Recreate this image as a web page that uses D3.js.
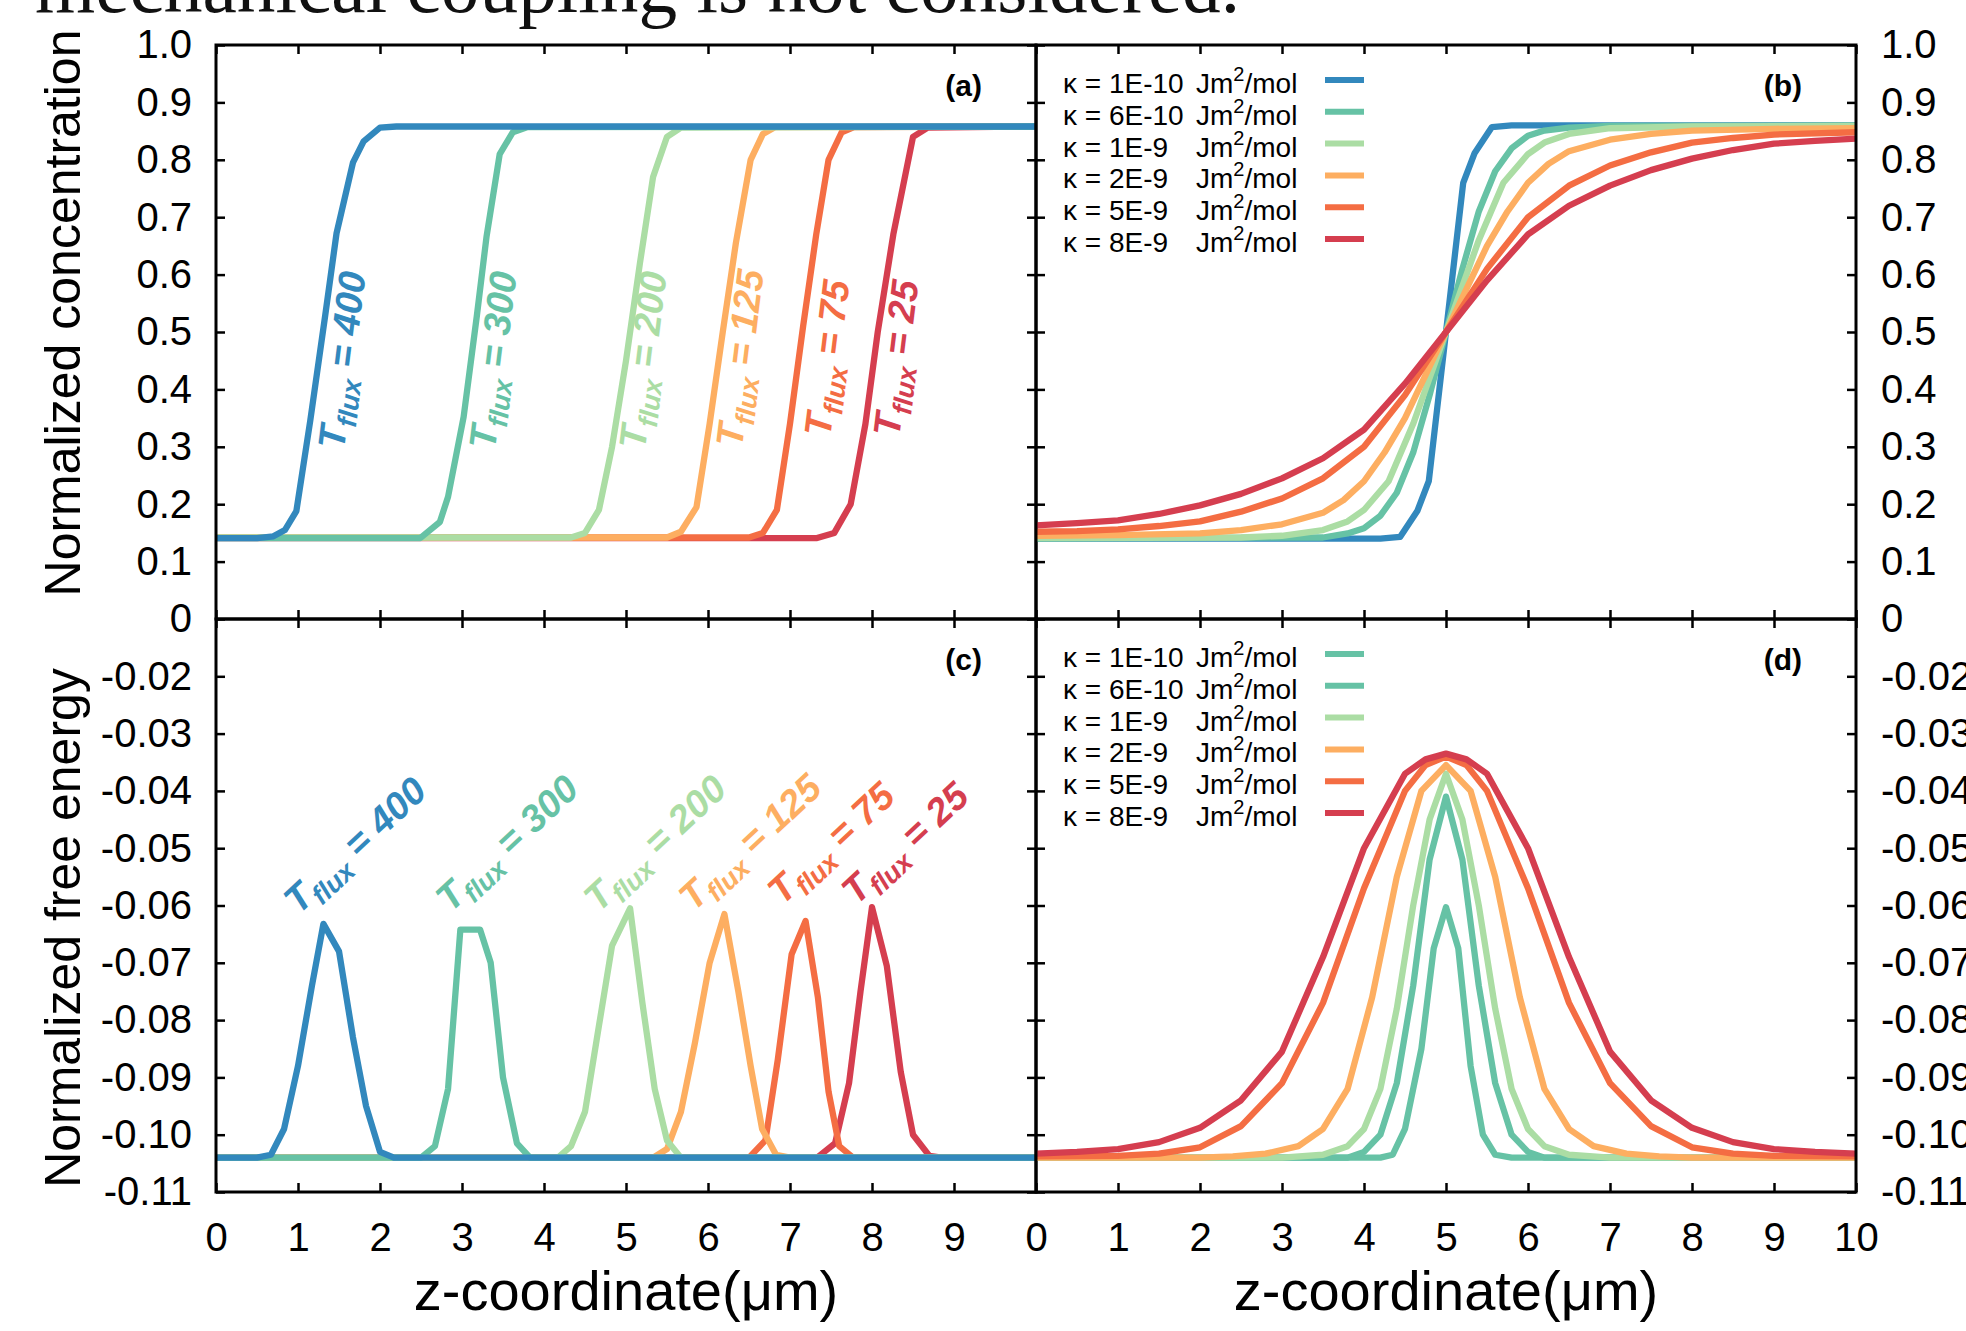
<!DOCTYPE html>
<html>
<head>
<meta charset="utf-8">
<script src="https://cdn.jsdelivr.net/npm/d3@7"></script>
<style>
  body { margin: 0; background: #fff; overflow: hidden; }
</style>
</head>
<body>
<svg id="chart" width="1966" height="1331"></svg>
<script>
// ---- data ----
const xTicksLeft = [0, 1, 2, 3, 4, 5, 6, 7, 8, 9];
const xTicksRight = [0, 1, 2, 3, 4, 5, 6, 7, 8, 9, 10];
const yTicksConc = [0, 0.1, 0.2, 0.3, 0.4, 0.5, 0.6, 0.7, 0.8, 0.9, 1.0];
const yTicksEnergy = [-0.02, -0.03, -0.04, -0.05, -0.06, -0.07, -0.08, -0.09, -0.10, -0.11];

const tfluxNames = ["400", "300", "200", "125", "75", "25"];
const kappaNames = ["1E-10", "6E-10", "1E-9", "2E-9", "5E-9", "8E-9"];

// (a) normalized concentration vs z, one per T_flux
const concT400 = [[0,0.141],[0.5,0.141],[0.7,0.144],[0.84,0.155],[0.98,0.188],[1.15,0.346],[1.33,0.527],[1.47,0.672],[1.67,0.795],[1.8,0.832],[2.0,0.856],[2.2,0.858],[10,0.858]];
const concT300 = [[0,0.141],[2.49,0.141],[2.73,0.169],[2.83,0.213],[3.02,0.352],[3.18,0.527],[3.3,0.667],[3.46,0.81],[3.62,0.848],[3.8,0.857],[10,0.858]];
const concT200 = [[0,0.142],[4.33,0.142],[4.5,0.15],[4.67,0.19],[4.83,0.3],[5.0,0.45],[5.17,0.62],[5.33,0.77],[5.5,0.84],[5.67,0.856],[10,0.858]];
const concT125 = [[0,0.142],[5.5,0.142],[5.67,0.152],[5.86,0.195],[6.02,0.34],[6.18,0.5],[6.34,0.655],[6.52,0.8],[6.67,0.845],[6.82,0.857],[10,0.858]];
const concT75 = [[0,0.142],[6.5,0.142],[6.67,0.15],[6.84,0.19],[7.0,0.34],[7.16,0.51],[7.32,0.67],[7.47,0.8],[7.63,0.848],[7.78,0.857],[10,0.858]];
const concT25 = [[0,0.141],[7.33,0.141],[7.54,0.15],[7.74,0.2],[7.92,0.34],[8.07,0.5],[8.26,0.67],[8.5,0.84],[8.68,0.856],[10,0.858]];

// (b) normalized concentration vs z, one per kappa
const concK1 = [[0,0.14],[4.2,0.14],[4.44,0.143],[4.65,0.188],[4.79,0.24],[5.21,0.76],[5.35,0.812],[5.56,0.857],[5.8,0.86],[10,0.86]];
const concK2 = [[0,0.14],[3.5,0.142],[3.8,0.149],[4.0,0.158],[4.2,0.18],[4.4,0.22],[4.6,0.29],[4.8,0.39],[5.0,0.5],[5.2,0.61],[5.4,0.71],[5.6,0.78],[5.8,0.82],[6.0,0.842],[6.2,0.851],[6.5,0.856],[7.0,0.859],[10,0.86]];
const concK3 = [[0,0.141],[2.5,0.142],[3.0,0.145],[3.5,0.155],[3.8,0.17],[4.0,0.19],[4.3,0.24],[4.6,0.34],[4.8,0.42],[5.0,0.5],[5.2,0.58],[5.4,0.66],[5.7,0.76],[6.0,0.81],[6.2,0.83],[6.5,0.845],[7.0,0.855],[8.0,0.858],[10,0.859]];
const concK4 = [[0,0.145],[1.0,0.146],[2.0,0.149],[2.5,0.155],[3.0,0.165],[3.5,0.185],[3.75,0.207],[4.0,0.24],[4.25,0.29],[4.5,0.35],[4.75,0.425],[5.0,0.5],[5.25,0.575],[5.5,0.65],[5.75,0.71],[6.0,0.76],[6.25,0.793],[6.5,0.815],[7.0,0.835],[7.5,0.845],[8.0,0.851],[9.0,0.854],[10,0.855]];
const concK5 = [[0,0.152],[0.5,0.153],[1,0.156],[1.5,0.162],[2,0.17],[2.5,0.187],[3,0.21],[3.5,0.245],[4,0.3],[4.5,0.39],[5,0.5],[5.5,0.61],[6,0.7],[6.5,0.755],[7,0.79],[7.5,0.813],[8,0.83],[8.5,0.838],[9,0.844],[10,0.848]];
const concK6 = [[0,0.163],[0.5,0.167],[1,0.172],[1.5,0.183],[2,0.198],[2.5,0.218],[3,0.245],[3.5,0.28],[4,0.33],[4.5,0.41],[5,0.5],[5.5,0.59],[6,0.67],[6.5,0.72],[7,0.755],[7.5,0.782],[8,0.802],[8.5,0.817],[9,0.828],[9.5,0.833],[10,0.837]];

// (c) normalized free energy vs z, one per T_flux
const energyT400 = [[0,-0.104],[0.5,-0.104],[0.67,-0.1035],[0.83,-0.099],[1.0,-0.088],[1.17,-0.074],[1.31,-0.0632],[1.5,-0.068],[1.67,-0.083],[1.83,-0.095],[2.0,-0.103],[2.17,-0.104],[10,-0.104]];
const energyT300 = [[0,-0.104],[2.5,-0.104],[2.67,-0.102],[2.83,-0.092],[2.98,-0.0642],[3.22,-0.0642],[3.35,-0.07],[3.5,-0.09],[3.67,-0.1015],[3.83,-0.104],[10,-0.104]];
const energyT200 = [[0,-0.104],[4.17,-0.104],[4.33,-0.102],[4.5,-0.096],[4.67,-0.081],[4.83,-0.067],[5.05,-0.0605],[5.2,-0.077],[5.35,-0.092],[5.5,-0.101],[5.67,-0.104],[10,-0.104]];
const energyT125 = [[0,-0.104],[5.33,-0.104],[5.5,-0.1025],[5.67,-0.096],[5.84,-0.084],[6.02,-0.07],[6.2,-0.0615],[6.37,-0.075],[6.52,-0.088],[6.66,-0.099],[6.83,-0.1035],[7.0,-0.104],[10,-0.104]];
const energyT75 = [[0,-0.104],[6.5,-0.104],[6.7,-0.101],[6.85,-0.087],[7.02,-0.0685],[7.19,-0.0627],[7.34,-0.076],[7.47,-0.0925],[7.6,-0.102],[7.77,-0.104],[10,-0.104]];
const energyT25 = [[0,-0.104],[7.33,-0.104],[7.55,-0.1015],[7.72,-0.091],[7.86,-0.075],[8.0,-0.0603],[8.18,-0.0705],[8.35,-0.089],[8.5,-0.1],[8.7,-0.1037],[8.85,-0.104],[10,-0.104]];

// (d) normalized free energy vs z, one per kappa
const energyK1 = [[0,-0.104],[4.2,-0.104],[4.35,-0.1035],[4.5,-0.099],[4.7,-0.085],[4.85,-0.0675],[5.0,-0.0603],[5.15,-0.0675],[5.3,-0.088],[5.45,-0.1],[5.6,-0.1035],[5.8,-0.104],[10,-0.104]];
const energyK2 = [[0,-0.104],[3.8,-0.104],[4.0,-0.103],[4.2,-0.1],[4.4,-0.091],[4.6,-0.074],[4.8,-0.052],[5.0,-0.041],[5.2,-0.052],[5.4,-0.074],[5.6,-0.091],[5.8,-0.1],[6.0,-0.103],[6.2,-0.104],[10,-0.104]];
const energyK3 = [[0,-0.104],[3.0,-0.104],[3.5,-0.1035],[3.8,-0.102],[4.0,-0.099],[4.2,-0.092],[4.4,-0.078],[4.6,-0.06],[4.8,-0.045],[5.0,-0.037],[5.2,-0.045],[5.4,-0.06],[5.6,-0.078],[5.8,-0.092],[6.0,-0.099],[6.2,-0.102],[6.5,-0.1035],[7.0,-0.104],[10,-0.104]];
const energyK4 = [[0,-0.104],[2.0,-0.104],[2.4,-0.1038],[2.8,-0.1033],[3.2,-0.102],[3.5,-0.099],[3.8,-0.092],[4.1,-0.076],[4.4,-0.055],[4.7,-0.04],[5.0,-0.0355],[5.3,-0.04],[5.6,-0.055],[5.9,-0.076],[6.2,-0.092],[6.5,-0.099],[6.8,-0.102],[7.2,-0.1033],[7.6,-0.1038],[8.0,-0.104],[10,-0.104]];
const energyK5 = [[0,-0.1038],[1,-0.1037],[1.5,-0.1033],[2,-0.1022],[2.5,-0.0985],[3,-0.091],[3.5,-0.077],[4,-0.057],[4.5,-0.04],[4.75,-0.0355],[5,-0.034],[5.25,-0.0355],[5.5,-0.04],[6,-0.057],[6.5,-0.077],[7,-0.091],[7.5,-0.0985],[8,-0.1022],[8.5,-0.1033],[9,-0.1037],[10,-0.1038]];
const energyK6 = [[0,-0.1033],[0.5,-0.103],[1,-0.1025],[1.5,-0.1013],[2,-0.0988],[2.5,-0.094],[3,-0.0855],[3.5,-0.069],[4,-0.05],[4.5,-0.037],[4.75,-0.0345],[5,-0.0335],[5.25,-0.0345],[5.5,-0.037],[6,-0.05],[6.5,-0.069],[7,-0.0855],[7.5,-0.094],[8,-0.0988],[8.5,-0.1013],[9,-0.1025],[9.5,-0.103],[10,-0.1033]];

// ---- styling ----
const colorsT = ["#3288bd", "#66c2a5", "#abdda4", "#fdae61", "#f46d43", "#d53e4f"];
const colorsK = ["#3288bd", "#66c2a5", "#abdda4", "#fdae61", "#f46d43", "#d53e4f"];
const colorsKEnergy = ["#66c2a5", "#66c2a5", "#abdda4", "#fdae61", "#f46d43", "#d53e4f"];

const FONT = '"Liberation Sans", Arial, Helvetica, sans-serif';
const LEFT = 216, MIDX = 1036, RIGHT = 1856, TOP = 45, MIDY = 619, BOTTOM = 1192;
const TICK = 9;

const svg = d3.select("#chart");

const xLeft = d3.scaleLinear().domain([0, 10]).range([LEFT, MIDX]);
const xRight = d3.scaleLinear().domain([0, 10]).range([MIDX, RIGHT]);
const yConc = d3.scaleLinear().domain([0, 1]).range([MIDY, TOP]);
const yEnergy = d3.scaleLinear().domain([-0.11, -0.01]).range([BOTTOM, MIDY]);

const fmtConc = d => d === 0 ? "0" : d.toFixed(1);
const fmtEnergy = d => d.toFixed(2);

// paper text cut off above the figure
svg.append("text")
    .attr("x", 35)
    .attr("y", 12)
    .attr("font-family", '"Liberation Serif", "DejaVu Serif", serif')
    .attr("font-size", 78)
    .attr("textLength", 1205)
    .attr("lengthAdjust", "spacingAndGlyphs")
    .attr("fill", "#111")
    .text("mechanical coupling is not considered.");

const panels = [
    { id: "a", x: xLeft, y: yConc, xTicks: xTicksLeft, yTicks: yTicksConc, fmt: fmtConc,
      series: [concT400, concT300, concT200, concT125, concT75, concT25], colors: colorsT,
      leftLabels: true, bottomLabels: false, reverse: true },
    { id: "b", x: xRight, y: yConc, xTicks: xTicksRight, yTicks: yTicksConc, fmt: fmtConc,
      series: [concK1, concK2, concK3, concK4, concK5, concK6], colors: colorsK,
      leftLabels: false, bottomLabels: false, reverse: false },
    { id: "c", x: xLeft, y: yEnergy, xTicks: xTicksLeft, yTicks: yTicksEnergy, fmt: fmtEnergy,
      series: [energyT400, energyT300, energyT200, energyT125, energyT75, energyT25], colors: colorsT,
      leftLabels: true, bottomLabels: true, reverse: true },
    { id: "d", x: xRight, y: yEnergy, xTicks: xTicksRight, yTicks: yTicksEnergy, fmt: fmtEnergy,
      series: [energyK1, energyK2, energyK3, energyK4, energyK5, energyK6], colors: colorsKEnergy,
      leftLabels: false, bottomLabels: true, reverse: false }
];

function styleAxis(g) {
    g.select(".domain").remove();
    g.selectAll(".tick line").attr("stroke", "#000").attr("stroke-width", 2.5);
    g.selectAll(".tick text").attr("fill", "#000");
    g.attr("font-family", FONT).attr("font-size", 40);
}

panels.forEach(p => {
    const [x0, x1] = p.x.range();
    const [y0, y1] = p.y.range();

    // curves
    const clipId = "clip-" + p.id;
    svg.append("clipPath").attr("id", clipId)
        .append("rect")
        .attr("x", x0).attr("y", y1)
        .attr("width", x1 - x0).attr("height", y0 - y1);

    const line = d3.line().x(d => p.x(d[0])).y(d => p.y(d[1]));
    let idx = d3.range(p.series.length);
    if (p.reverse) idx = idx.reverse();

    const gLines = svg.append("g").attr("clip-path", `url(#${clipId})`);
    idx.forEach(i => {
        gLines.append("path")
            .datum(p.series[i])
            .attr("d", line)
            .attr("fill", "none")
            .attr("stroke", p.colors[i])
            .attr("stroke-width", 6.3)
            .attr("stroke-linejoin", "round");
    });

    // axes, ticks on all four sides pointing inwards
    svg.append("g").attr("transform", `translate(0,${y0})`)
        .call(d3.axisBottom(p.x).tickValues(p.xTicks).tickSize(-TICK).tickPadding(31)
            .tickFormat(p.bottomLabels ? d3.format("d") : ""))
        .call(styleAxis);
    svg.append("g").attr("transform", `translate(0,${y1})`)
        .call(d3.axisTop(p.x).tickValues(p.xTicks).tickSize(-TICK).tickFormat(""))
        .call(styleAxis);
    svg.append("g").attr("transform", `translate(${x0},0)`)
        .call(d3.axisLeft(p.y).tickValues(p.yTicks).tickSize(-TICK).tickPadding(24)
            .tickFormat(p.leftLabels ? p.fmt : ""))
        .call(styleAxis);
    svg.append("g").attr("transform", `translate(${x1},0)`)
        .call(d3.axisRight(p.y).tickValues(p.yTicks).tickSize(-TICK).tickPadding(25)
            .tickFormat(p.leftLabels ? "" : p.fmt))
        .call(styleAxis);

    // frame
    svg.append("rect")
        .attr("x", x0).attr("y", y1)
        .attr("width", x1 - x0).attr("height", y0 - y1)
        .attr("fill", "none")
        .attr("stroke", "#000")
        .attr("stroke-width", 3);

    // panel letter
    svg.append("text")
        .attr("x", x1 - 54)
        .attr("y", y1 + 51)
        .attr("text-anchor", "end")
        .attr("font-family", FONT)
        .attr("font-size", 30)
        .attr("font-weight", "bold")
        .text(`(${p.id})`);
});

// T_flux labels along the curves
const labelPosConc = [[342, 360], [493, 360], [643, 360], [740, 358], [827, 358], [896, 358]];
const labelPosEnergy = [[355, 845], [507, 843], [655, 843], [750, 842], [831, 843], [905, 843]];

function tfluxLabel(pos, angle, name, color) {
    const t = svg.append("g")
        .attr("transform", `translate(${pos[0]},${pos[1]}) rotate(${angle})`)
        .append("text")
        .attr("text-anchor", "middle")
        .attr("y", 13)
        .attr("font-family", FONT)
        .attr("font-size", 38)
        .attr("font-weight", "bold")
        .attr("font-style", "italic")
        .attr("fill", color);
    t.append("tspan").text("T");
    t.append("tspan").attr("font-size", 27).attr("dy", 9).text("flux");
    t.append("tspan").attr("dy", -9).text(" = " + name);
}

tfluxNames.forEach((n, i) => {
    tfluxLabel(labelPosConc[i], -83, n, colorsT[i]);
    tfluxLabel(labelPosEnergy[i], -43, n, colorsT[i]);
});

// legends for the kappa panels
function legend(top, colors) {
    kappaNames.forEach((n, i) => {
        const yy = top + i * 31.8;
        svg.append("line")
            .attr("x1", 1325).attr("x2", 1364)
            .attr("y1", yy).attr("y2", yy)
            .attr("stroke", colors[i])
            .attr("stroke-width", 6);
        svg.append("text")
            .attr("x", 1063).attr("y", yy + 13)
            .attr("font-family", FONT).attr("font-size", 28)
            .text("\u03ba = " + n);
        const u = svg.append("text")
            .attr("x", 1196).attr("y", yy + 13)
            .attr("font-family", FONT).attr("font-size", 28);
        u.append("tspan").text("Jm");
        u.append("tspan").attr("font-size", 20).attr("dy", -12).text("2");
        u.append("tspan").attr("dy", 12).text("/mol");
    });
}
legend(80, colorsK);
legend(654, colorsKEnergy);

// axis titles
svg.append("text")
    .attr("transform", "translate(80,313) rotate(-90)")
    .attr("text-anchor", "middle")
    .attr("font-family", FONT).attr("font-size", 50)
    .text("Normalized concentration");
svg.append("text")
    .attr("transform", "translate(80,928) rotate(-90)")
    .attr("text-anchor", "middle")
    .attr("font-family", FONT).attr("font-size", 50)
    .text("Normalized free energy");
[xLeft, xRight].forEach(sc => {
    svg.append("text")
        .attr("x", (sc.range()[0] + sc.range()[1]) / 2)
        .attr("y", 1310)
        .attr("text-anchor", "middle")
        .attr("font-family", FONT).attr("font-size", 56)
        .text("z-coordinate(\u03bcm)");
});
</script>
</body>
</html>
